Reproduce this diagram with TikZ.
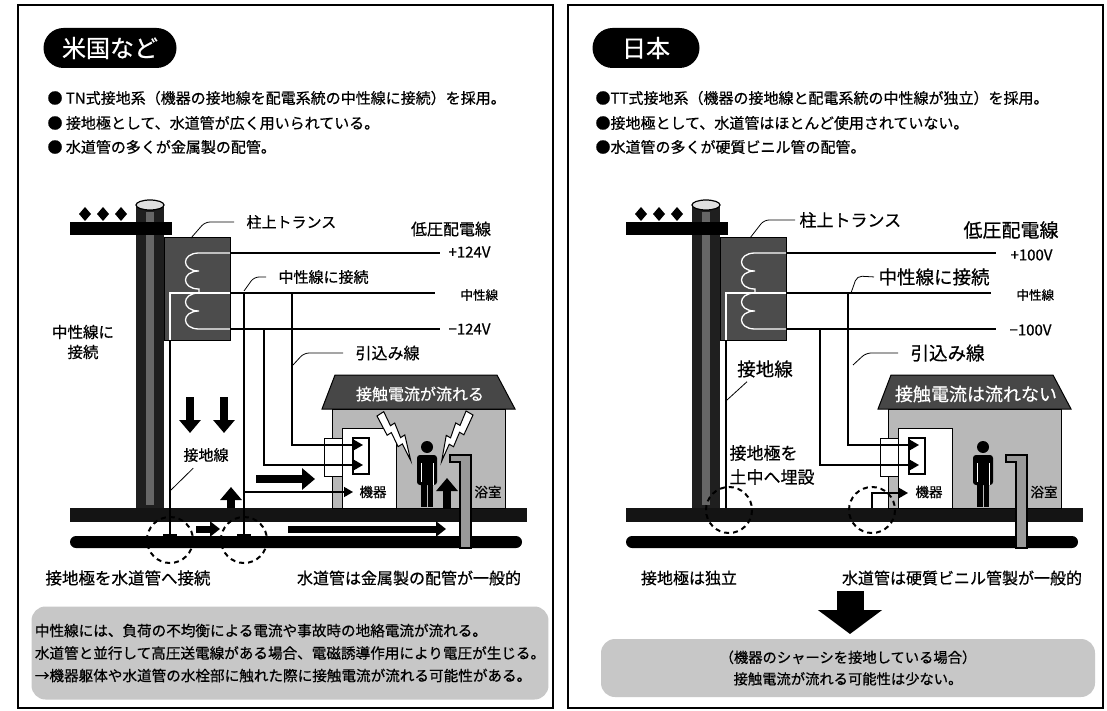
\documentclass[tikz,border=0pt]{standalone}
\usepackage{fontspec}
\setmainfont{Noto Sans CJK JP}[FakeBold=0.6]
\usepackage{tikz}
\usetikzlibrary{arrows.meta, positioning, calc}

\newcommand{\setfs}[1]{\fontsize{#1}{#1}\selectfont}

% pole, transformer, lines, ground, water main and house (same in both panels)
\newcommand{\sitescene}{%
  % Pole
  \fill[black!88] (136,205) rectangle (164,509);
  \fill[black!60] (146,212) rectangle (154,505);
  \filldraw[fill=black!12, line width=1.2pt] (150,205) ellipse [x radius=14, y radius=5];
  \fill (70,222) rectangle (172,235);
  \foreach \ix in {85,103,121}
    \fill (\ix,207) -- (\ix+6,214) -- (\ix,221) -- (\ix-6,214) -- cycle;
  % Transformer
  \filldraw[fill=black!70, line width=1pt] (164,238) rectangle (230,340);
  \draw[coil] (230,253) -- (199,253)
    .. controls (181,253) and (181,271) .. (199,271)
    .. controls (181,271) and (181,289) .. (199,289) -- (199,293);
  \draw[coil] (199,293)
    .. controls (181,293) and (181,311) .. (199,311)
    .. controls (181,311) and (181,329) .. (199,329) -- (230,329);
  \draw[coil] (230,293) -- (170,293) -- (170,340);
  % Low voltage lines
  \draw[wire] (230,253) -- (440,253);
  \draw[wire] (230,293) -- (435,293);
  \draw[wire] (230,329) -- (440,329);
  \node[anchor=west, font=\setfs{12.5}] (neutral) at (457,295) {中性線};
  % Ground and water main
  \fill[black!92] (70,508) rectangle (527,522);
  \fill[rounded corners=6pt] (70,536) rectangle (522,548);
  % House
  \filldraw[fill=black!28, line width=1pt] (332,409) rectangle (505,508);
  \filldraw[fill=black!72, line width=1pt] (335,375) -- (497,375) -- (515,409) -- (322,409) -- cycle;
  \filldraw[fill=white, line width=1pt] (342,428) rectangle (396,508);
  \filldraw[fill=white, line width=1pt] (324,438) rectangle (342,476);
  \filldraw[fill=white, line width=1.2pt] (353,438) rectangle (369,474);
  \node[font=\setfs{13.5}] (device) at (373,492) {機器};
  \node[font=\setfs{13.5}] (bath) at (488,492) {浴室};
  % Person
  \fill (427,447) circle [radius=6];
  \fill[rounded corners=3pt] (417,455) rectangle (437,485);
  \draw[white, line width=0.8pt] (421,463) -- (421,485) (433,463) -- (433,485);
  \fill (421,482) rectangle (426.5,507);
  \fill (427.5,482) rectangle (433,507);
  % Bath tap
  \filldraw[fill=black!40, line width=1.6pt] (450,455) -- (471,455) -- (471,548)
    -- (460,548) -- (460,462) -- (450,462) -- cycle;
  % Service drop
  \draw[feed, plugtip] (292,293) |- (363,445);
  \draw[feed, plugtip] (264,329) |- (363,465);
}

\begin{document}
\begin{tikzpicture}[x=1pt, y=-1pt, font=\setfs{15},
  panelframe/.style={line width=1.3pt},
  pill/.style={fill=black, text=white, rounded corners=20pt, minimum height=40pt, font=\setfs{24}},
  bullet/.style={anchor=west, font=\setfs{15}},
  coil/.style={white, line width=1.3pt},
  wire/.style={line width=2.2pt},
  feed/.style={line width=1.5pt},
  plugtip/.style={-{Triangle[length=9pt, width=10pt]}},
  leader/.style={line width=0.8pt, rounded corners=5pt, shorten >=9pt},
  flowarrow/.style={line width=8.5pt, -{Triangle[length=13pt, width=21pt]}},
  pipeflow/.style={line width=7pt, -{Triangle[length=10pt, width=15pt]}},
  ring/.style={line width=2pt, dash pattern=on 5pt off 4pt},
  notebox/.style={fill=black!22, rounded corners=14pt},
  bolt/.pic={\filldraw[fill=white, line width=1pt] (0,0) -- (8,0) -- (6,10) -- (11,10)
    -- (8,20) -- (13,20) -- (4,36) -- (6,24) -- (1,24) -- (3,14) -- (-2,14) -- cycle;}]
  \useasboundingbox (0,0) rectangle (1107,711);
  \fill[white] (0,0) rectangle (1107,711);

  % Panels
  \draw[panelframe] (18,5) rectangle (553,708);
  \draw[panelframe] (568,5) rectangle (1103,708);

  % US: TN system
  \begin{scope}[name prefix=us-]
    \node[pill, minimum width=133pt] (title) at (110,48) {米国など};
    \node[bullet] (b1) at (44,98) {● TN式接地系（機器の接地線を配電系統の中性線に接続）を採用。};
    \node[bullet] (b2) at (44,123) {● 接地極として、水道管が広く用いられている。};
    \node[bullet] (b3) at (44,147) {● 水道管の多くが金属製の配管。};

    \sitescene

    % Earths bonded to the water main
    \draw[feed] (170,340) -- (170,535);
    \draw[feed] (163,535) -- (177,535);
    \draw[feed] (244,293) -- (244,535);
    \draw[feed] (237,535) -- (251,535);
    \draw[feed, plugtip] (244,492) -- (353,492);

    % Current paths
    \draw[flowarrow] (190,397) -- (190,433);
    \draw[flowarrow] (224,397) -- (224,433);
    \draw[flowarrow] (231,508) -- (231,487);
    \draw[flowarrow] (256,479) -- (315,479);
    \draw[flowarrow] (447,508) -- (447,478);
    \draw[pipeflow] (196,529) -- (220,529);
    \draw[pipeflow] (288,529) -- (446,529);
    \draw[ring] (170,540) circle [radius=23];
    \draw[ring] (244,540) circle [radius=23];
    \pic[rotate=33, yscale=1.55] at (377,416) {bolt};
    \pic[rotate=-30, xscale=-1, yscale=1.55] at (473,415) {bolt};

    % Labels
    \node[anchor=west] (xfmr) at (243,222) {柱上トランス};
    \draw[leader] (191,238) -- (205,222) -- (xfmr.west);
    \node[font=\setfs{16}] (lv) at (451,229) {低圧配電線};
    \node[anchor=west] (plus) at (445,252) {+124V};
    \node[anchor=west] (minus) at (445,329) {−124V};
    \node[anchor=west] (nc) at (275,277) {中性線に接続};
    \draw[leader] (244,291) -- (254,277) -- (nc.west);
    \node[align=center, font=\fontsize{15.5}{20}\selectfont] (polenc) at (83,342) {中性線に\\接続};
    \node[anchor=west, font=\setfs{16}] (drop) at (352,353) {引込み線};
    \draw[leader] (293,365) -- (304,353) -- (drop.west);
    \node (earth) at (206,455) {接地線};
    \draw[leader, shorten >=1pt] (171,490) -- ($(earth.south west)+(14,2)$);
    \node[text=white, font=\setfs{16}] (roof) at (420,394) {接触電流が流れる};
    \node[font=\setfs{16.5}] (electrode) at (128,578) {接地極を水道管へ接続};
    \node[font=\setfs{16}] (mains) at (409,578) {水道管は金属製の配管が一般的};
    \node[notebox, minimum width=511pt, minimum height=93pt, align=left,
      font=\fontsize{14.6}{22.5}\selectfont] (risk) at (290,653)
      {中性線には、負荷の不均衡による電流や事故時の地絡電流が流れる。\\
       水道管と並行して高圧送電線がある場合、電磁誘導作用により電圧が生じる。\\
       →機器躯体や水道管の水栓部に触れた際に接触電流が流れる可能性がある。};
  \end{scope}

  % Japan: TT system
  \begin{scope}[shift={(556,0)}, name prefix=jp-]
    \node[pill, minimum width=107pt] (title) at (90,48) {日本};
    \node[bullet] (b1) at (36,98) {●TT式接地系（機器の接地線と配電系統の中性線が独立）を採用。};
    \node[bullet] (b2) at (36,123) {●接地極として、水道管はほとんど使用されていない。};
    \node[bullet] (b3) at (36,147) {●水道管の多くが硬質ビニル管の配管。};

    \sitescene

    % Earth electrodes buried on their own
    \draw[feed] (170,340) -- (170,508);
    \draw[feed, plugtip] (316,508) |- (352,493);
    \draw[ring] (173,510) circle [radius=23];
    \draw[ring] (316,510) circle [radius=23];

    % Labels
    \node[anchor=west, font=\setfs{17}] (xfmr) at (240,220) {柱上トランス};
    \draw[leader, shorten >=1pt] (194,238) -- (208,220) -- (xfmr.west);
    \node[font=\setfs{19}] (lv) at (455,230) {低圧配電線};
    \node[anchor=west] (plus) at (451,255) {+100V};
    \node[anchor=west] (minus) at (450,330) {−100V};
    \node[anchor=west, font=\setfs{18.5}] (nc) at (319,277) {中性線に接続};
    \draw[leader, shorten >=1pt] (295,293) -- (301,276) -- (nc.west);
    \node[anchor=west, font=\setfs{18.5}] (drop) at (351,353) {引込み線};
    \draw[leader] (297,365) -- (310,353) -- (drop.west);
    \node[font=\setfs{18.5}] (earth) at (209,369) {接地線};
    \draw[leader, shorten >=1pt] (171,400) -- ($(earth.south west)+(14,0)$);
    \node[anchor=west, align=left, font=\fontsize{17}{24}\selectfont] (rod) at (170,465) {接地極を\\土中へ埋設};
    \node[text=white, font=\setfs{18}] (roof) at (420,394) {接触電流は流れない};
    \node[font=\setfs{16}] (electrode) at (133,578) {接地極は独立};
    \node[font=\setfs{16}] (mains) at (406,578) {水道管は硬質ビニル管製が一般的};
    \draw[line width=27pt, -{Triangle[length=24pt, width=63pt]}] (294,591) -- (294,634);
    \node[notebox, minimum width=494pt, minimum height=58pt, align=center,
      font=\fontsize{14.3}{21.5}\selectfont] (safe) at (292,668)
      {（機器のシャーシを接地している場合）\\接触電流が流れる可能性は少ない。};
  \end{scope}
\end{tikzpicture}
\end{document}
